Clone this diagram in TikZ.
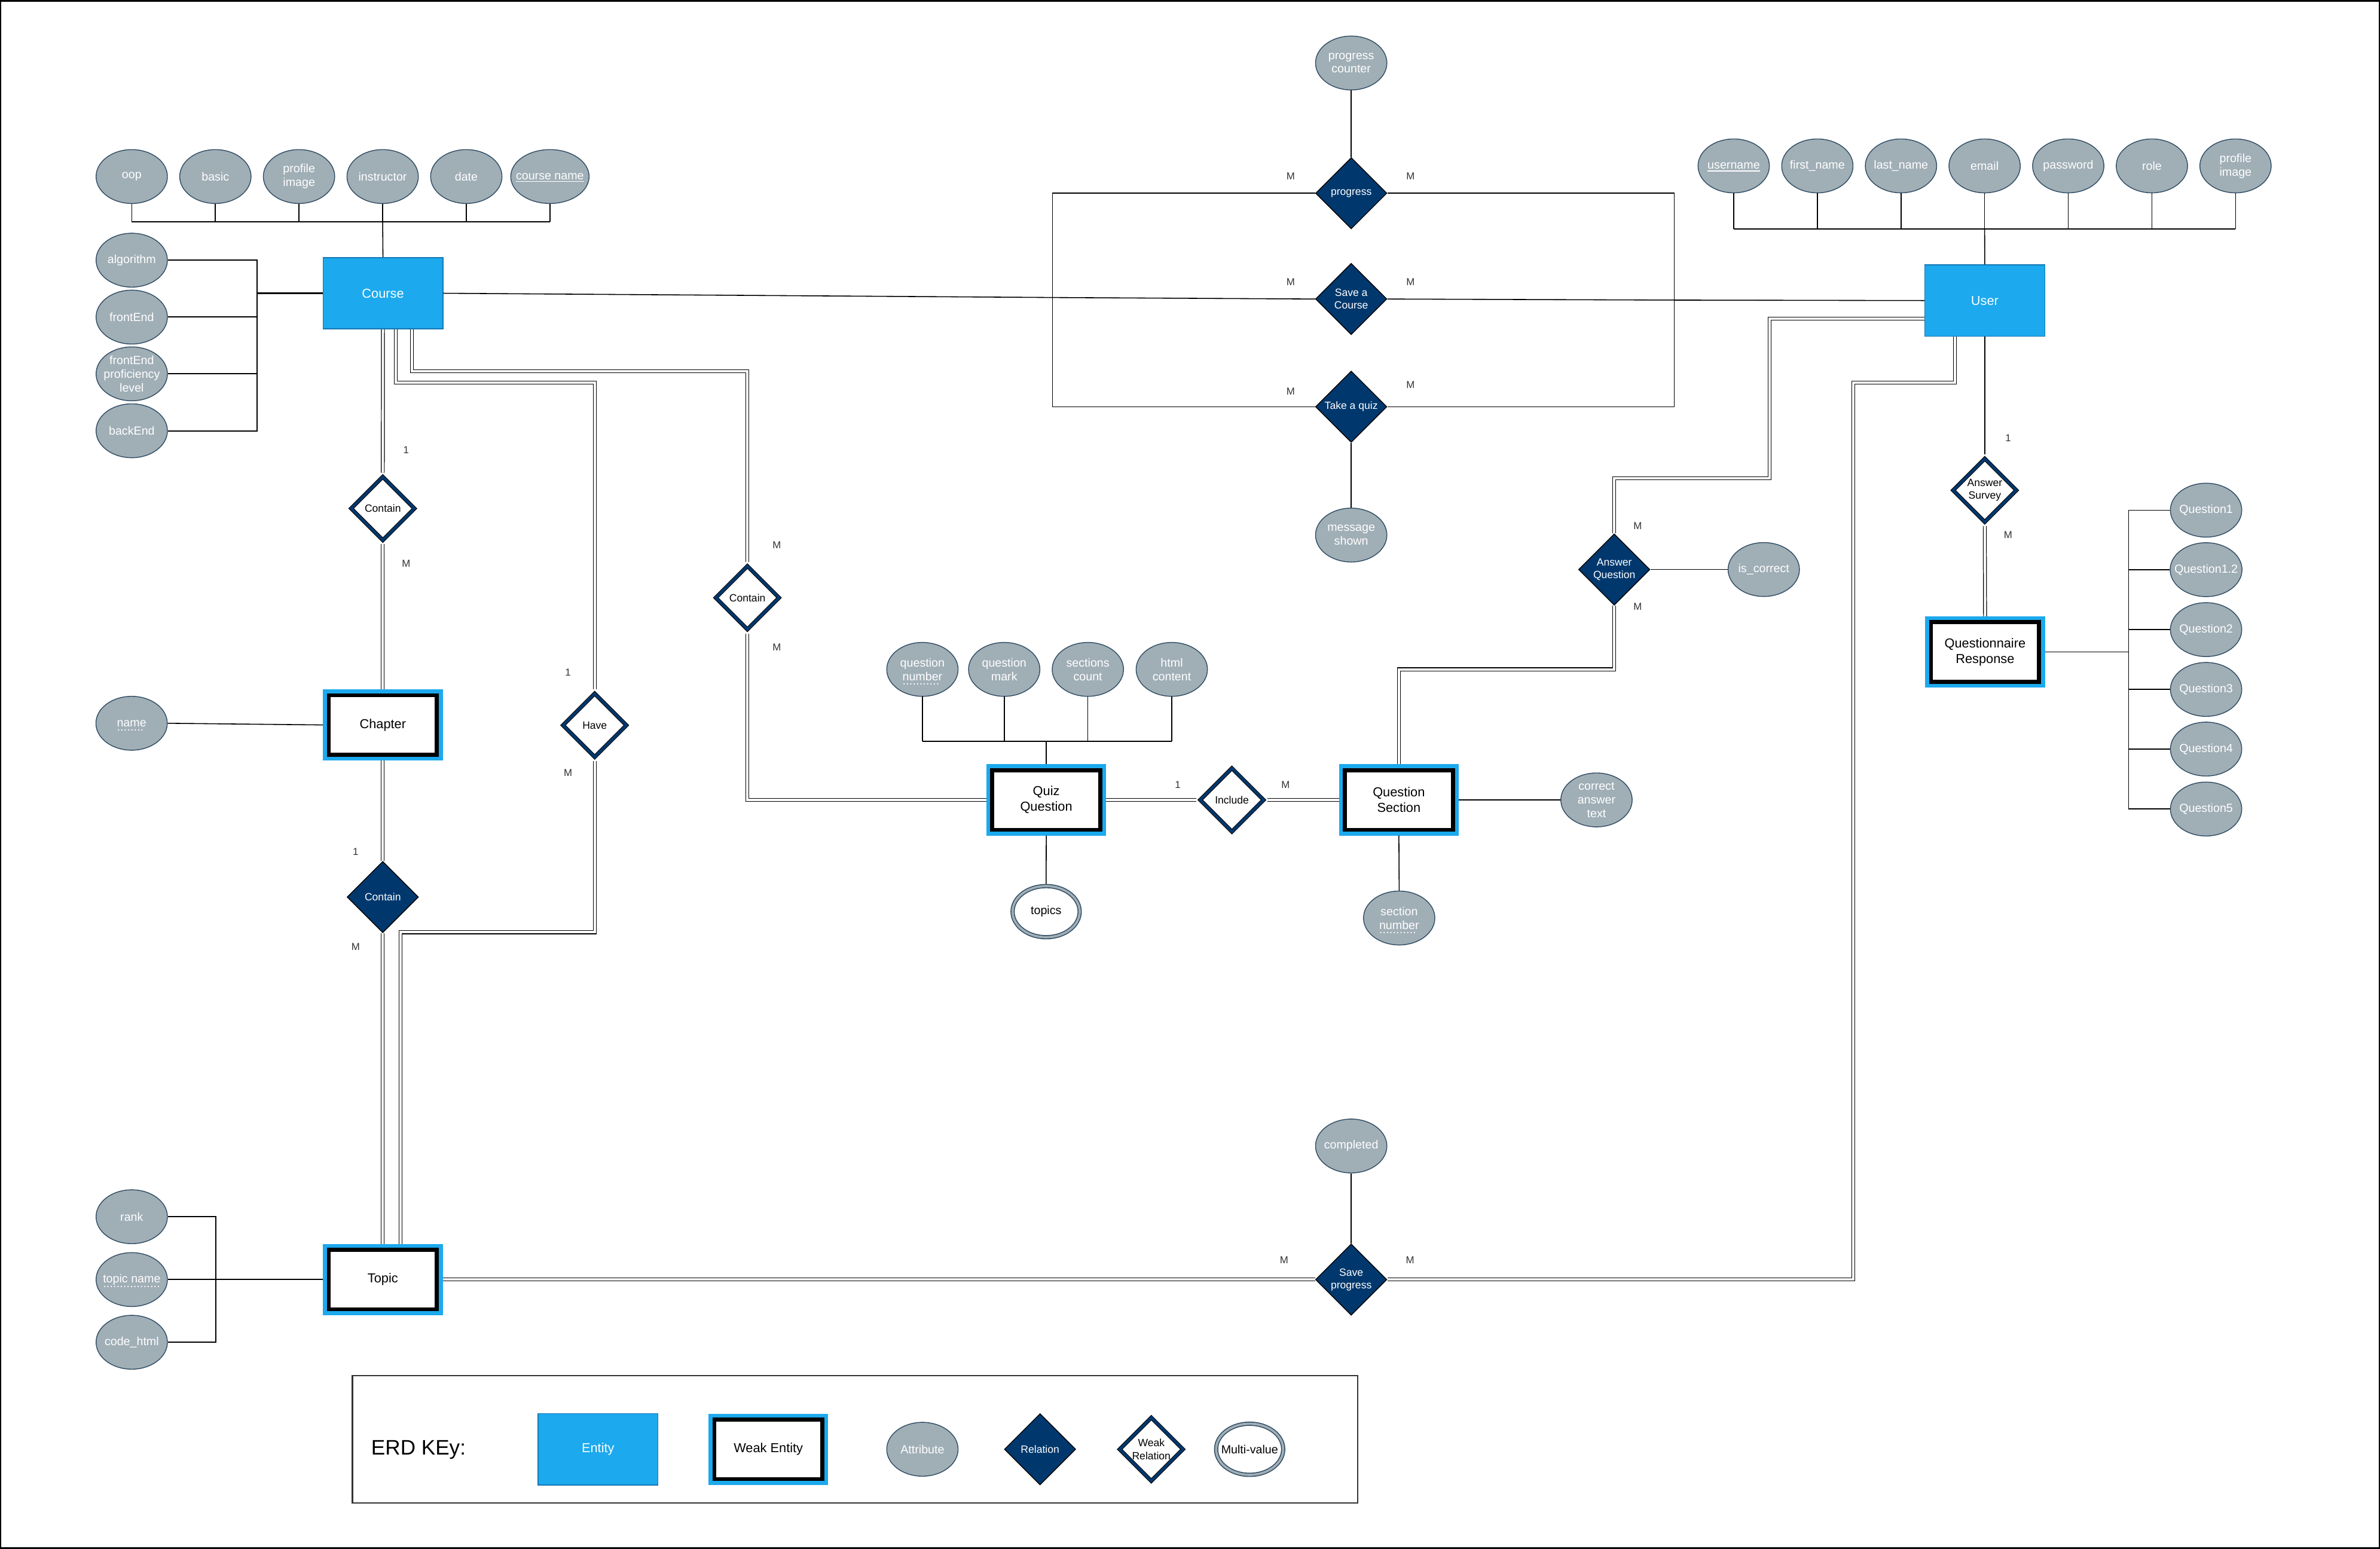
\documentclass[tikz,border=0pt]{standalone}
\usepackage{fontspec}
\setmainfont{Liberation Sans}
\usetikzlibrary{shapes.geometric,calc}

\definecolor{entblue}{HTML}{1CA9EE}
\definecolor{entedge}{HTML}{1577B5}
\definecolor{attrgray}{HTML}{A0AEB6}
\definecolor{attredge}{HTML}{304C63}
\definecolor{relnavy}{HTML}{00386E}

\newcommand{\dotul}[1]{\setbox0=\hbox{#1}\leavevmode\rlap{\raisebox{-2.2pt}[0pt][0pt]{\hbox to \wd0{\leaders\hbox to 1.6pt{\hss.\hss}\hfil}}}\box0}
\newcommand{\keyul}[1]{\setbox0=\hbox{#1}\leavevmode\rlap{\raisebox{-1.1pt}[0pt][0pt]{\rule{\wd0}{0.35pt}}}\box0}

\tikzset{
  entity/.style={rectangle, fill=entblue, draw=entedge, line width=0.4pt, text=white,
    minimum width=2.007cm, minimum height=1.194cm, inner sep=1pt, align=center,
    font=\fontsize{6.2}{7.4}\selectfont},
  weakent/.style={rectangle, fill=white, draw=black, line width=1.87pt,
    preaction={draw=entblue, line width=5.62pt},
    minimum width=1.808cm, minimum height=0.996cm, outer sep=0.099cm, inner sep=1pt,
    text=black, align=center, font=\fontsize{6.2}{7.4}\selectfont},
  attr/.style={ellipse, fill=attrgray, draw=attredge, line width=0.4pt, text=white,
    minimum width=1.194cm, minimum height=0.902cm, inner xsep=-3pt, inner ysep=-1pt,
    align=center, font=\fontsize{5.6}{6.5}\selectfont},
  multi/.style={ellipse, fill=white, draw=attredge, line width=2pt,
    postaction={draw=attrgray, line width=1.1pt},
    minimum width=1.123cm, minimum height=0.856cm, inner xsep=-3pt, inner ysep=-1pt,
    text=black, align=center, font=\fontsize{5.6}{6.5}\selectfont},
  rel/.style={diamond, fill=relnavy, draw=black, line width=0.4pt, text=white,
    minimum width=1.194cm, minimum height=1.194cm, inner sep=-1pt, align=center,
    font=\fontsize{5}{6}\selectfont},
  weakrel/.style={diamond, fill=white, draw=black, line width=1.9pt,
    postaction={draw=relnavy, line width=1.3pt},
    minimum width=1.1cm, minimum height=1.1cm, inner sep=-1pt, outer sep=1.4pt,
    text=black, align=center, font=\fontsize{5}{6}\selectfont},
  card/.style={inner sep=0pt, text=black!80, font=\fontsize{4.8}{5.8}\selectfont},
  conn/.style={line width=0.45pt},
  bus/.style={line width=0.6pt},
  dbl/.style={double, double distance=1.1pt, line width=0.35pt}
}

\begin{document}
\begin{tikzpicture}[x=0.0254cm, y=-0.0254cm]
        \useasboundingbox (0,0) rectangle (1568,1020.5);
        \draw[line width=0.7pt] (0.5,0.5) rectangle (1567.5,1020);

        \node[entity] (course) at (252.3,193.2) {Course};
        \node[entity] (user) at (1307.6,198) {User};
        \node[weakent] (chapter) at (252.2,477.6) {Chapter};
        \node[weakent] (topic) at (252.2,843) {Topic};
        \node[weakent] (quizq) at (689.3,527) {Quiz\\Question};
        \node[weakent] (qsection) at (921.6,527) {Question\\Section};
        \node[weakent] (qresp) at (1307.8,429.5) {Questionnaire\\Response};

        \node[rel] (progress) at (890.2,127.3) {progress};
        \node[rel] (savecourse) at (890.2,197) {Save a\\Course};
        \node[rel] (takequiz) at (890.2,268) {Take a quiz};
        \node[rel] (contain2) at (252.2,591) {Contain};
        \node[rel] (answerq) at (1063.5,375.2) {Answer\\Question};
        \node[rel] (saveprog) at (890.2,843) {Save\\progress};
        \node[weakrel] (contain1) at (252.2,335) {Contain};
        \node[weakrel] (have) at (391.8,477.8) {Have};
        \node[weakrel] (contain3) at (492.4,393.8) {Contain};
        \node[weakrel] (include) at (811.6,527) {Include};
        \node[weakrel] (survey) at (1307.6,323) {Answer\\Survey};

        \node[attr] (oop) at (86.8,116.3) {oop};
        \node[attr] (basic) at (141.9,116.3) {basic};
        \node[attr] (cimage) at (197,116.3) {profile\\image};
        \node[attr] (instructor) at (252.1,116.3) {instructor};
        \node[attr] (date) at (307.2,116.3) {date};
        \node[attr] (cname) at (362.3,116.3) {\keyul{course name}};
        \node[attr] (algo) at (86.8,171.4) {algorithm};
        \node[attr] (front) at (86.8,208.9) {frontEnd};
        \node[attr] (fpl) at (86.8,246.3) {frontEnd\\proficiency\\level};
        \node[attr] (back) at (86.8,283.8) {backEnd};
        \node[attr] (name) at (86.7,476.5) {\dotul{name}};
        \node[attr] (rank) at (86.8,801.6) {rank};
        \node[attr] (tname) at (86.8,843) {\dotul{topic name}};
        \node[attr] (codehtml) at (86.8,884.3) {code\_html};

        \node[attr] (pcounter) at (890.2,41.5) {progress\\counter};
        \node[attr] (message) at (890.2,352.5) {message\\shown};
        \node[attr] (completed) at (890.2,755) {completed};
        \node[attr] (iscorrect) at (1162,375.2) {is\_correct};

        \node[attr] (qnum) at (607.7,441) {question\\\dotul{number}};
        \node[attr] (qmark) at (661.6,441) {question\\mark};
        \node[attr] (scount) at (716.7,441) {sections\\count};
        \node[attr] (html) at (772,441) {html\\content};
        \node[multi] (topics) at (689.2,600.6) {topics};
        \node[attr] (secnum) at (921.8,604.8) {section\\\dotul{number}};
        \node[attr] (cat) at (1051.8,527) {correct\\answer\\text};

        \node[attr] (uname) at (1142.2,109.3) {\keyul{username}};
        \node[attr] (fname) at (1197.3,109.3) {first\_name};
        \node[attr] (lname) at (1252.4,109.3) {last\_name};
        \node[attr] (email) at (1307.5,109.3) {email};
        \node[attr] (password) at (1362.6,109.3) {password};
        \node[attr] (role) at (1417.7,109.3) {role};
        \node[attr] (uimage) at (1472.8,109.3) {profile\\image};

        \node[attr] (q1) at (1453.4,336.1) {Question1};
        \node[attr] (q12) at (1453.4,375.3) {Question1.2};
        \node[attr] (q2) at (1453.4,414.8) {Question2};
        \node[attr] (q3) at (1453.4,454.2) {Question3};
        \node[attr] (q4) at (1453.4,493.5) {Question4};
        \node[attr] (q5) at (1453.4,533) {Question5};

        \coordinate (cbus) at (0,146);
        \draw[conn] (oop.south) -- (oop.south |- cbus);
        \draw[conn] (basic.south) -- (basic.south |- cbus);
        \draw[conn] (cimage.south) -- (cimage.south |- cbus);
        \draw[conn] (instructor.south) -- (instructor.south |- cbus);
        \draw[conn] (date.south) -- (date.south |- cbus);
        \draw[conn] (cname.south) -- (cname.south |- cbus);
        \draw[bus] (oop.south |- cbus) -- (cname.south |- cbus);
        \draw[conn] (instructor.south |- cbus) -- (course.north);

        \coordinate (lbus) at (169.4,0);
        \draw[bus] (algo.east) -- (algo.east -| lbus) -- (back.east -| lbus) -- (back.east);
        \draw[bus] (front.east) -- (front.east -| lbus);
        \draw[bus] (fpl.east) -- (fpl.east -| lbus);
        \draw[bus] (course.west) -- (course.west -| lbus);

        \coordinate (ubus) at (0,150.8);
        \draw[conn] (uname.south) -- (uname.south |- ubus);
        \draw[conn] (fname.south) -- (fname.south |- ubus);
        \draw[conn] (lname.south) -- (lname.south |- ubus);
        \draw[conn] (email.south) -- (email.south |- ubus);
        \draw[conn] (password.south) -- (password.south |- ubus);
        \draw[conn] (role.south) -- (role.south |- ubus);
        \draw[conn] (uimage.south) -- (uimage.south |- ubus);
        \draw[bus] (uname.south |- ubus) -- (uimage.south |- ubus);
        \draw[conn] (email.south |- ubus) -- (user.north);

        \coordinate (qbus) at (1402.3,0);
        \draw[conn] (qresp.east) -- (qresp.east -| qbus);
        \draw[conn] (q1.west -| qbus) -- (q5.west -| qbus);
        \draw[conn] (q1.west) -- (q1.west -| qbus);
        \draw[conn] (q12.west) -- (q12.west -| qbus);
        \draw[conn] (q2.west) -- (q2.west -| qbus);
        \draw[conn] (q3.west) -- (q3.west -| qbus);
        \draw[conn] (q4.west) -- (q4.west -| qbus);
        \draw[conn] (q5.west) -- (q5.west -| qbus);

        \coordinate (qqbus) at (0,488.4);
        \draw[conn] (qnum.south) -- (qnum.south |- qqbus);
        \draw[conn] (qmark.south) -- (qmark.south |- qqbus);
        \draw[conn] (scount.south) -- (scount.south |- qqbus);
        \draw[conn] (html.south) -- (html.south |- qqbus);
        \draw[bus] (qnum.south |- qqbus) -- (html.south |- qqbus);
        \draw[conn] (quizq.north |- qqbus) -- (quizq.north);

        \coordinate (tbus) at (142.1,0);
        \draw[bus] (rank.east) -- (rank.east -| tbus) -- (codehtml.east -| tbus) -- (codehtml.east);
        \draw[bus] (tname.east) -- (topic.west);

        \coordinate (jl) at (693.4,196);
        \coordinate (jr) at (1103,197.7);
        \draw[conn] (course.east) -- (jl) -- (savecourse.west);
        \draw[conn] (savecourse.east) -- (jr) -- (user.west);
        \draw[conn] (progress.west) -| (jl) |- (takequiz.west);
        \draw[conn] (progress.east) -| (jr) |- (takequiz.east);
        \draw[conn] (pcounter.south) -- (progress.north);
        \draw[conn] (takequiz.south) -- (message.north);
        \draw[conn] (completed.south) -- (saveprog.north);
        \draw[conn] (name.east) -- (chapter.west);
        \draw[conn] (quizq.south) -- (topics.north);
        \draw[conn] (qsection.south) -- (secnum.north);
        \draw[conn] (qsection.east) -- (cat.west);
        \draw[conn] (answerq.east) -- (iscorrect.west);
        \draw[conn] (user.south) -- (survey.north);

        \draw[dbl] (course.south) -- (contain1.north);
        \draw[dbl] (contain1.south) -- (chapter.north);
        \draw[dbl] (chapter.south) -- (contain2.north);
        \draw[dbl] (contain2.south) -- (topic.north);
        \draw[dbl] ($(course.south)+(8.4,0)$) -- ++(0,35) -| (have.north);
        \draw[dbl] (have.south) -- ++(0,112.8) -| ($(topic.north)+(11.8,0)$);
        \draw[dbl] ($(course.south)+(19.2,0)$) -- ++(0,27.6) -| (contain3.north);
        \draw[dbl] (contain3.south) |- (quizq.west);
        \draw[dbl] (quizq.east) -- (include.west);
        \draw[dbl] (include.east) -- (qsection.west);
        \draw[dbl] (answerq.south) -- ++(0,42) -| (qsection.north);
        \draw[dbl] ($(user.west)+(0,12)$) -- ++(-102,0) |- ($(answerq.north)+(0,-36.3)$) -- (answerq.north);
        \draw[dbl] ($(user.south)+(-19.6,0)$) -- ++(0,30.2) -- ++(-67,0) |- (saveprog.east);
        \draw[dbl] (topic.east) -- (saveprog.west);
        \draw[dbl] (survey.south) -- (qresp.north);

        \node[card] (cprogl) at (850.3,116) {M};
        \node[card] (cprogr) at (929.3,116) {M};
        \node[card] (csavel) at (850.3,185.7) {M};
        \node[card] (csaver) at (929.3,185.7) {M};
        \node[card] (cquizl) at (850.3,257.8) {M};
        \node[card] (cquizr) at (929.3,253.7) {M};
        \node[card] (cconta) at (267.6,296.5) {1};
        \node[card] (ccontb) at (267.6,371.3) {M};
        \node[card] (cchapa) at (234.3,561.2) {1};
        \node[card] (cchapb) at (234.3,623.8) {M};
        \node[card] (chavea) at (374.2,443) {1};
        \node[card] (chaveb) at (374.2,509.3) {M};
        \node[card] (cquiza) at (511.8,359.2) {M};
        \node[card] (cquizb) at (511.8,426.3) {M};
        \node[card] (cinca) at (775.9,517) {1};
        \node[card] (cincb) at (847,517) {M};
        \node[card] (cansa) at (1079,346.6) {M};
        \node[card] (cansb) at (1079,399.6) {M};
        \node[card] (csura) at (1323,288.5) {1};
        \node[card] (csurb) at (1323,352.2) {M};
        \node[card] (cspl) at (846,830) {M};
        \node[card] (cspr) at (929,830) {M};

        \draw[line width=0.6pt, black!80] (232.2,906.3) rectangle (894.5,990);
        \node[anchor=west, inner sep=0pt, font=\fontsize{10}{12}\selectfont] (erdkey) at (244.3,955.3) {ERD KEy:};
        \node[entity] (keyent) at (394,954.8) {Entity};
        \node[weakent] (keyweak) at (506.2,954.8) {Weak Entity};
        \node[attr] (keyattr) at (607.7,954.8) {Attribute};
        \node[rel] (keyrel) at (685.2,954.8) {Relation};
        \node[weakrel] (keywrel) at (758.5,954.8) {Weak\\Relation};
        \node[multi] (keymulti) at (823.3,954.8) {Multi-value};
\end{tikzpicture}
\end{document}
